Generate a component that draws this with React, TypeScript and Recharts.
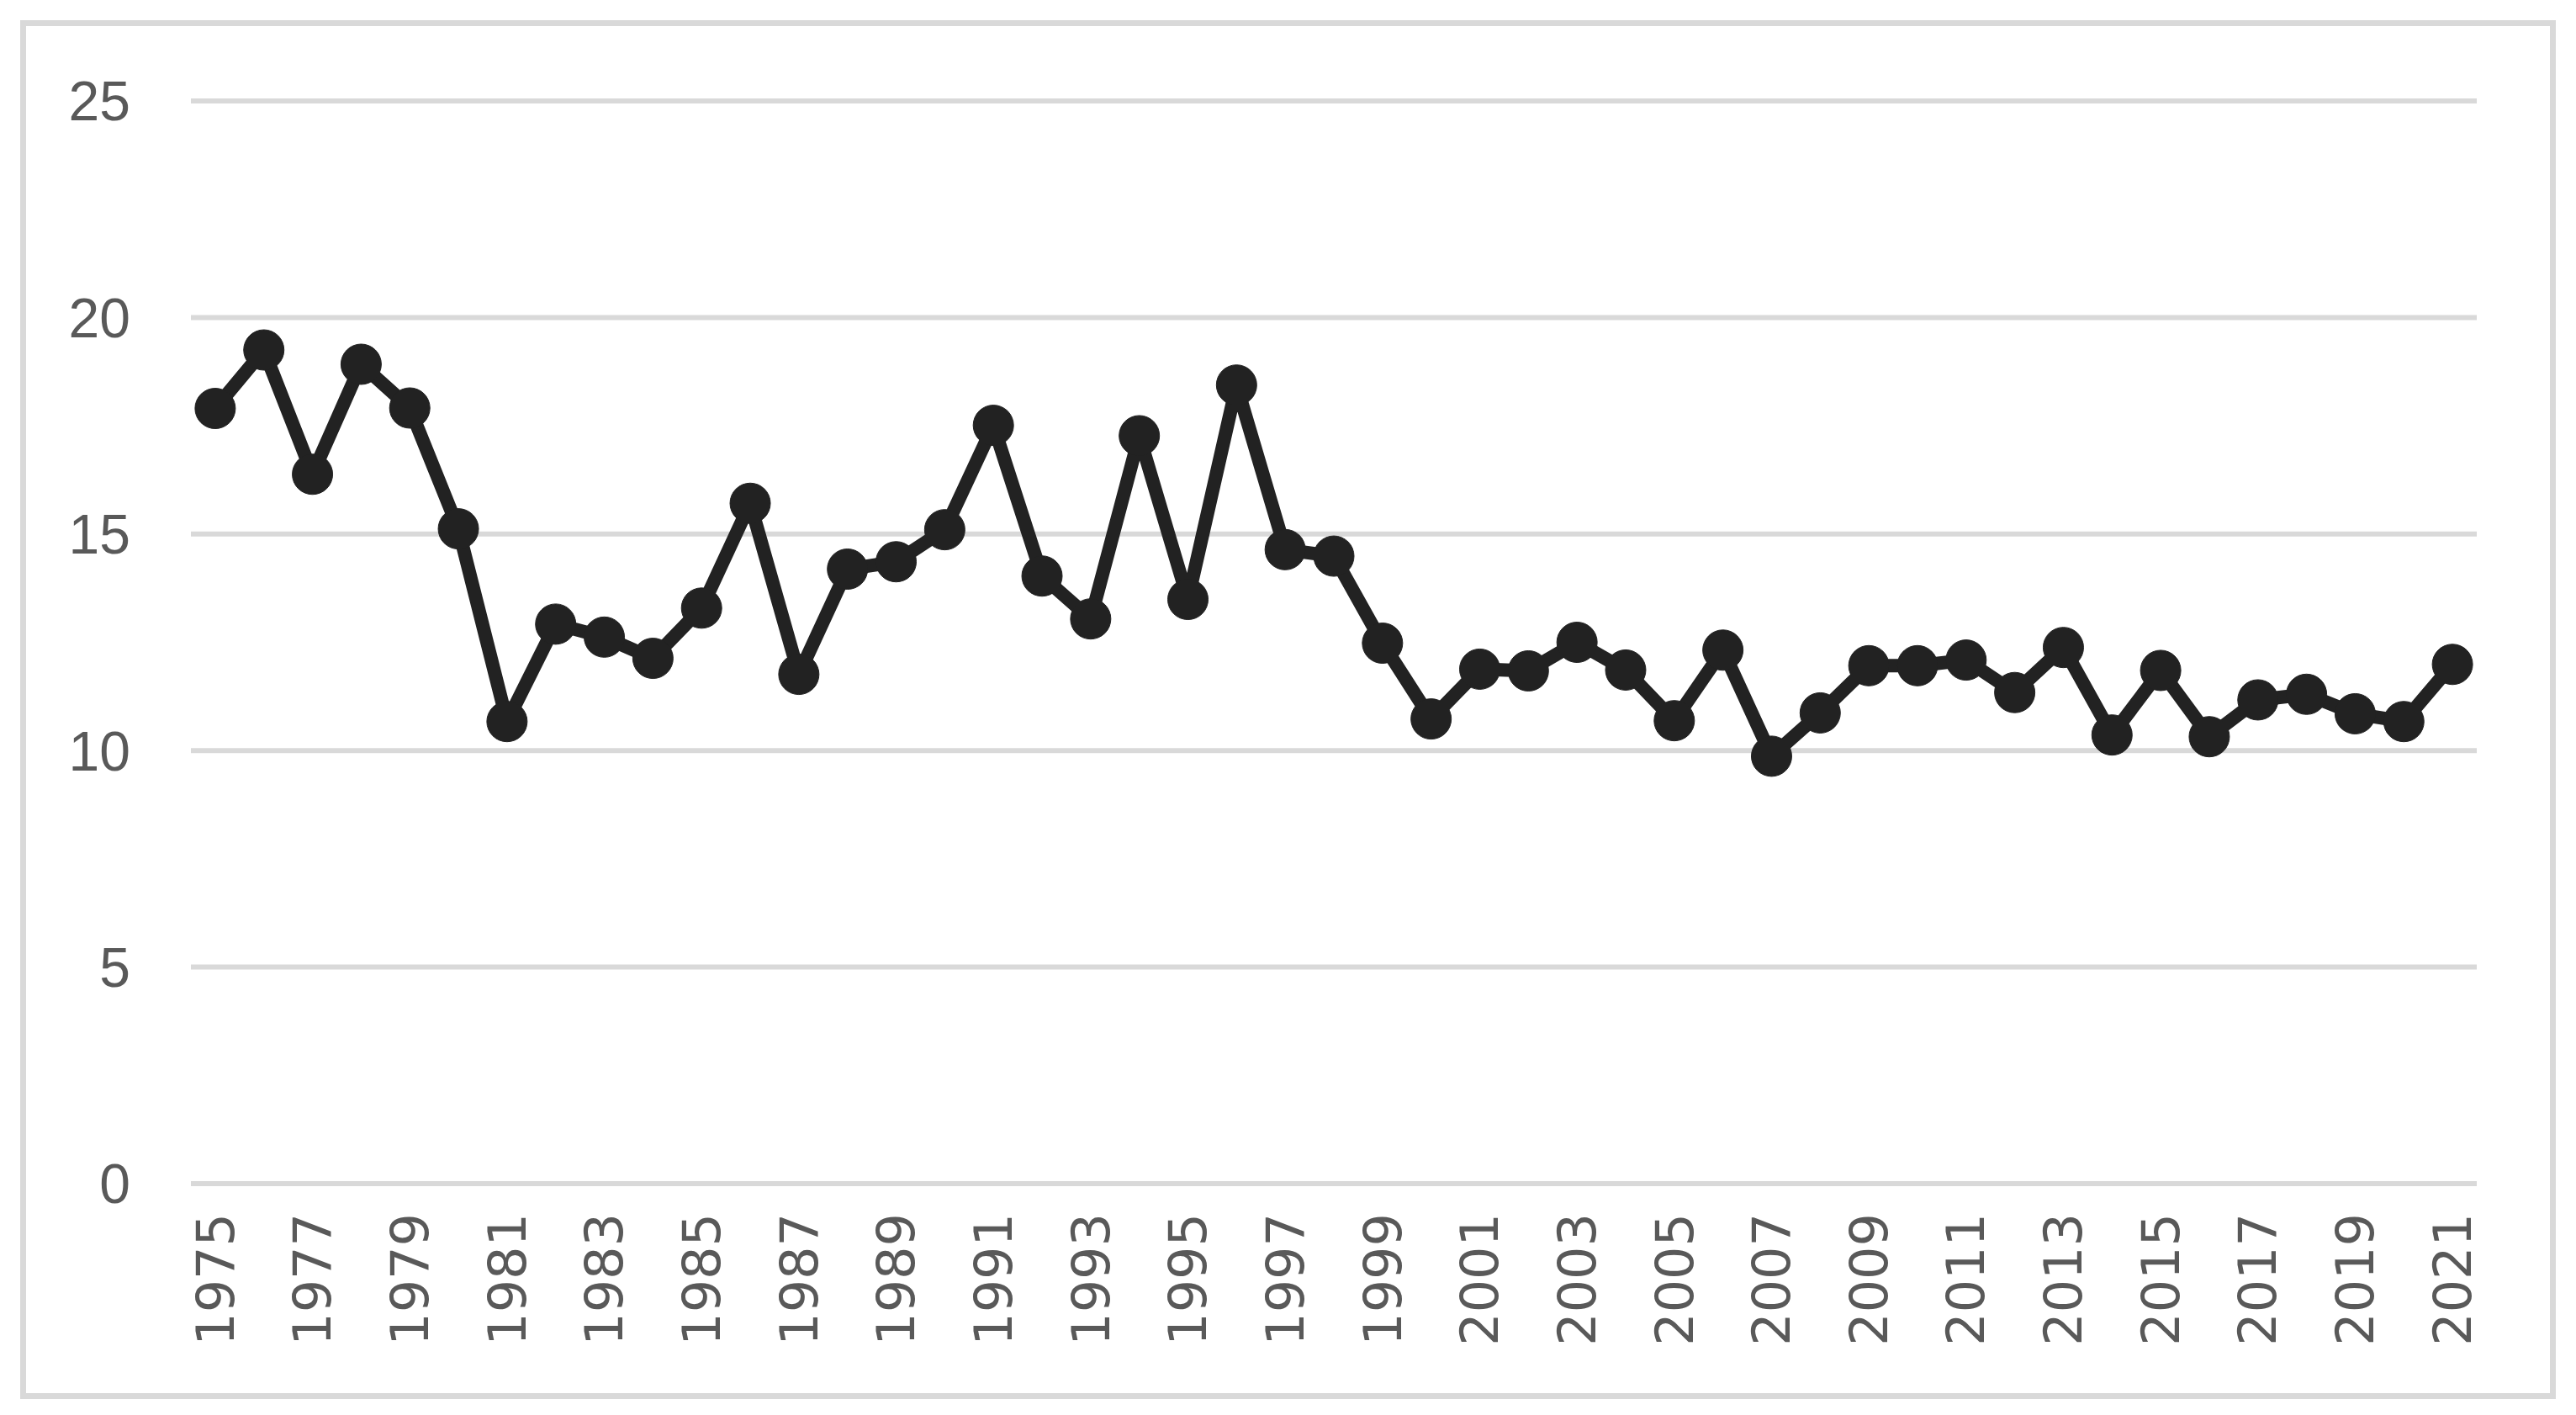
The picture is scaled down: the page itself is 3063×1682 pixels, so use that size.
import React from "react";
import { LineChart, Line, XAxis, YAxis, CartesianGrid } from "recharts";

const years = [
  "1975", "1976", "1977", "1978", "1979", "1980", "1981", "1982", "1983", "1984",
  "1985", "1986", "1987", "1988", "1989", "1990", "1991", "1992", "1993", "1994",
  "1995", "1996", "1997", "1998", "1999", "2000", "2001", "2002", "2003", "2004",
  "2005", "2006", "2007", "2008", "2009", "2010", "2011", "2012", "2013", "2014",
  "2015", "2016", "2017", "2018", "2019", "2020", "2021",
];

const values = [
  17.9, 19.25, 16.38, 18.92, 17.91, 15.12, 10.67, 12.92, 12.62, 12.13,
  13.29, 15.71, 11.76, 14.19, 14.36, 15.1, 17.51, 14.03, 13.04, 17.27,
  13.49, 18.44, 14.64, 14.49, 12.48, 10.73, 11.88, 11.84, 12.5, 11.86,
  10.69, 12.32, 9.87, 10.87, 11.96, 11.96, 12.09, 11.34, 12.38, 10.36,
  11.85, 10.32, 11.17, 11.3, 10.85, 10.67, 11.99,
];

const yTicks = [0, 5, 10, 15, 20, 25];

const data = years.map((year, i) => ({ year, value: values[i] }));

const W = 3063;
const H = 1682;

function YearTick(props: any) {
  const { x, y, payload } = props;
  return (
    <text
      x={x}
      y={y}
      transform={`rotate(-90, ${x}, ${y})`}
      textAnchor="end"
      dy="0.35em"
      fill="#595959"
      style={{ fontFamily: "'DejaVu Sans'", fontSize: 62 }}
    >
      {payload.value}
    </text>
  );
}

export default function App() {
  return (
    <div
      style={{
        position: "fixed",
        left: 0,
        top: 0,
        width: W,
        height: H,
        background: "#ffffff",
      }}
    >
      <div
        style={{
          position: "absolute",
          left: 24,
          top: 24,
          width: 3015,
          height: 1639,
          boxSizing: "border-box",
          border: "7px solid #d9d9d9",
        }}
      />
      <div style={{ position: "absolute", left: 0, top: 0 }}>
        <LineChart
          width={W}
          height={H}
          data={data}
          margin={{ top: 120, right: 118, bottom: 75, left: 0 }}
        >
          <CartesianGrid
            horizontal
            vertical={false}
            stroke="#d9d9d9"
            strokeWidth={6}
          />
          <XAxis
            dataKey="year"
            height={200}
            interval={1}
            axisLine={false}
            tickLine={false}
            tickSize={0}
            tickMargin={35}
            padding={{ left: 28.9, right: 28.9 }}
            tick={<YearTick />}
          />
          <YAxis
            width={227}
            domain={[0, 25]}
            ticks={yTicks}
            axisLine={false}
            tickLine={false}
            tickSize={0}
            tickMargin={72}
            tick={{ fill: "#595959", fontSize: 66, fontFamily: "Liberation Sans" }}
          />
          <Line
            type="linear"
            dataKey="value"
            stroke="#222222"
            strokeWidth={16}
            strokeLinejoin="round"
            dot={{ r: 24, fill: "#222222", stroke: "#222222", strokeWidth: 1 }}
            isAnimationActive={false}
          />
        </LineChart>
      </div>
    </div>
  );
}
